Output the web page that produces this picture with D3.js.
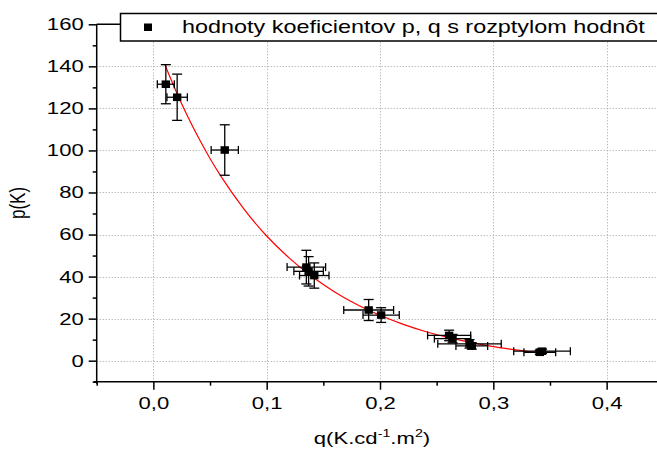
<!DOCTYPE html>
<html>
<head>
<meta charset="utf-8">
<script src="https://cdn.jsdelivr.net/npm/d3@7"></script>
<style>
  html, body { margin: 0; padding: 0; background: #fff; }
  svg { display: block; }
  text { font-family: Arial, "Liberation Sans", sans-serif; fill: #000; }
</style>
</head>
<body>
<svg id="chart" width="657" height="450"></svg>
<script>
// Measured coefficients p (K) against q (K.cd^-1.m^2), with their spread
const qValues = [0.011, 0.021, 0.063, 0.135, 0.137, 0.142, 0.190, 0.201, 0.261, 0.264, 0.279, 0.281, 0.343, 0.341];
const pValues = [131.5, 125.3, 100.2, 44.5, 42.5, 40.5, 24.1, 21.7, 12.0, 10.5, 8.0, 7.0, 4.5, 4.0];
const qErrors = [0.0075, 0.009, 0.012, 0.017, 0.013, 0.013, 0.022, 0.016, 0.019, 0.016, 0.028, 0.014, 0.025, 0.014];
const pErrors = [9.3, 11.0, 12.0, 8.0, 7.0, 6.0, 5.0, 3.5, 2.5, 2.0, 2.0, 1.5, 1.0, 1.0];

// Fitted decay curve, sampled along q
const fitQ = [0.010, 0.020, 0.030, 0.040, 0.050, 0.060, 0.080, 0.100, 0.120, 0.140, 0.160, 0.180, 0.200, 0.220, 0.240, 0.260, 0.280, 0.300, 0.320, 0.347];
const fitP = [141.0, 128.2, 116.5, 105.9, 96.2, 87.4, 72.1, 59.3, 48.8, 40.0, 32.7, 26.6, 21.6, 17.4, 13.9, 11.1, 8.7, 6.7, 5.1, 3.3];

// Axis ticks
const xMajorTicks = [0.0, 0.1, 0.2, 0.3, 0.4];
const xMinorTicks = [-0.05, 0.05, 0.15, 0.25, 0.35, 0.45];
const yMajorTicks = [0, 20, 40, 60, 80, 100, 120, 140, 160];
const yMinorTicks = [-10, 10, 30, 50, 70, 90, 110, 130, 150];

const legendLabel = "hodnoty koeficientov p, q s rozptylom hodnôt";

const svg = d3.select("#chart");
const STRETCH = 1.3;

const x = d3.scaleLinear().domain([-0.05, 0.45]).range([96.7, 663.3]);
const y = d3.scaleLinear().domain([-10, 160]).range([381.7, 24.3]);

const commaFmt = d3.formatLocale({ decimal: ",", thousands: ".", grouping: [3], currency: ["", ""] }).format(".1f");

function stretch(sel) {
  sel.each(function () {
    const t = d3.select(this);
    const ax = +t.attr("x") || 0;
    t.attr("transform", `translate(${ax},0) scale(${STRETCH},1) translate(${-ax},0)`);
  });
}

// Dotted grid
const grid = svg.append("g").attr("stroke", "#a0a0a0").attr("stroke-width", 1).attr("stroke-dasharray", "1,2");
grid.selectAll("line.v").data(xMajorTicks).join("line")
  .attr("x1", d => Math.round(x(d)) + 0.5).attr("x2", d => Math.round(x(d)) + 0.5)
  .attr("y1", y(160)).attr("y2", y(-10));
grid.selectAll("line.h").data(yMajorTicks.filter(d => d < 160)).join("line")
  .attr("y1", d => Math.round(y(d)) + 0.5).attr("y2", d => Math.round(y(d)) + 0.5)
  .attr("x1", x(-0.05)).attr("x2", 657);

// Top frame line
svg.append("line").attr("x1", x(-0.05)).attr("x2", 660)
  .attr("y1", y(160)).attr("y2", y(160)).attr("stroke", "#000").attr("stroke-width", 1.5);

// Axes
const xAxisG = svg.append("g").attr("transform", `translate(0,${y(-10)})`);
xAxisG.call(d3.axisBottom(x).tickValues(xMajorTicks).tickSize(8).tickSizeOuter(0).tickPadding(7).tickFormat(commaFmt));
const xMinorG = svg.append("g").attr("transform", `translate(0,${y(-10)})`);
xMinorG.call(d3.axisBottom(x).tickValues(xMinorTicks).tickSize(4).tickSizeOuter(0).tickFormat(""));
xMinorG.select(".domain").remove();

const yAxisG = svg.append("g").attr("transform", `translate(${x(-0.05)},0)`);
yAxisG.call(d3.axisLeft(y).tickValues(yMajorTicks).tickSize(8).tickSizeOuter(0).tickPadding(5));
const yMinorG = svg.append("g").attr("transform", `translate(${x(-0.05)},0)`);
yMinorG.call(d3.axisLeft(y).tickValues(yMinorTicks).tickSize(4).tickSizeOuter(0).tickFormat(""));
yMinorG.select(".domain").remove();

[xAxisG, xMinorG, yAxisG, yMinorG].forEach(g => {
  g.selectAll("path, line").attr("stroke", "#000").attr("stroke-width", 1.5);
  g.selectAll("text").attr("font-size", 17).attr("font-family", "Arial, 'Liberation Sans', sans-serif").attr("fill", "#000");
});
xAxisG.select(".domain").attr("d", `M${x(-0.05) - 3},0H657`);
yAxisG.select(".domain").attr("d", `M0,${y(160)}V${y(-10) + 2}`);
stretch(xAxisG.selectAll("text"));
stretch(yAxisG.selectAll("text"));

// Axis titles
const xTitle = svg.append("text").attr("x", 372).attr("y", 444).attr("text-anchor", "middle").attr("font-size", 17);
xTitle.append("tspan").text("q(K.cd");
xTitle.append("tspan").attr("font-size", 11).attr("dy", -7).text("-1");
xTitle.append("tspan").attr("dy", 7).text(".m");
xTitle.append("tspan").attr("font-size", 11).attr("dy", -7).text("2");
xTitle.append("tspan").attr("dy", 7).text(")");
stretch(xTitle);

svg.append("text")
  .attr("transform", `translate(25,203) scale(${STRETCH},1) rotate(-90)`)
  .attr("text-anchor", "middle").attr("font-size", 17).text("p(K)");

// Fitted curve
const line = d3.line().x((d, i) => x(fitQ[i])).y(d => y(d)).curve(d3.curveMonotoneX);
svg.append("path").datum(fitP).attr("d", line)
  .attr("fill", "none").attr("stroke", "#ff0000").attr("stroke-width", 1.2);

// Error bars and markers
const pts = qValues.map((q, i) => ({ q, p: pValues[i], dq: qErrors[i], dp: pErrors[i] }));
const eb = svg.append("g").attr("stroke", "#000").attr("stroke-width", 1.3).attr("fill", "none");
pts.forEach(d => {
  const cx = x(d.q), cy = y(d.p);
  const x0 = x(d.q - d.dq), x1 = x(d.q + d.dq);
  const y0 = y(d.p - d.dp), y1 = y(d.p + d.dp);
  eb.append("line").attr("x1", cx).attr("x2", cx).attr("y1", y1).attr("y2", y0);
  eb.append("line").attr("x1", cx - 5).attr("x2", cx + 5).attr("y1", y1).attr("y2", y1);
  eb.append("line").attr("x1", cx - 5).attr("x2", cx + 5).attr("y1", y0).attr("y2", y0);
  eb.append("line").attr("x1", x0).attr("x2", x1).attr("y1", cy).attr("y2", cy);
  eb.append("line").attr("x1", x0).attr("x2", x0).attr("y1", cy - 4).attr("y2", cy + 4);
  eb.append("line").attr("x1", x1).attr("x2", x1).attr("y1", cy - 4).attr("y2", cy + 4);
});
svg.append("g").selectAll("rect").data(pts).join("rect")
  .attr("x", d => x(d.q) - 4.2).attr("y", d => y(d.p) - 3.8)
  .attr("width", 8.4).attr("height", 7.6).attr("fill", "#000");

// Legend
const lg = svg.append("g");
lg.append("rect").attr("x", 120.5).attr("y", 13.5).attr("width", 545).attr("height", 27.5)
  .attr("fill", "#fff").attr("stroke", "#000").attr("stroke-width", 1.5);
lg.append("rect").attr("x", 144).attr("y", 23.5).attr("width", 8).attr("height", 7.5).attr("fill", "#000");
const lt = lg.append("text").attr("x", 182).attr("y", 33.5).attr("font-size", 18).text(legendLabel);
stretch(lt);
</script>
</body>
</html>
